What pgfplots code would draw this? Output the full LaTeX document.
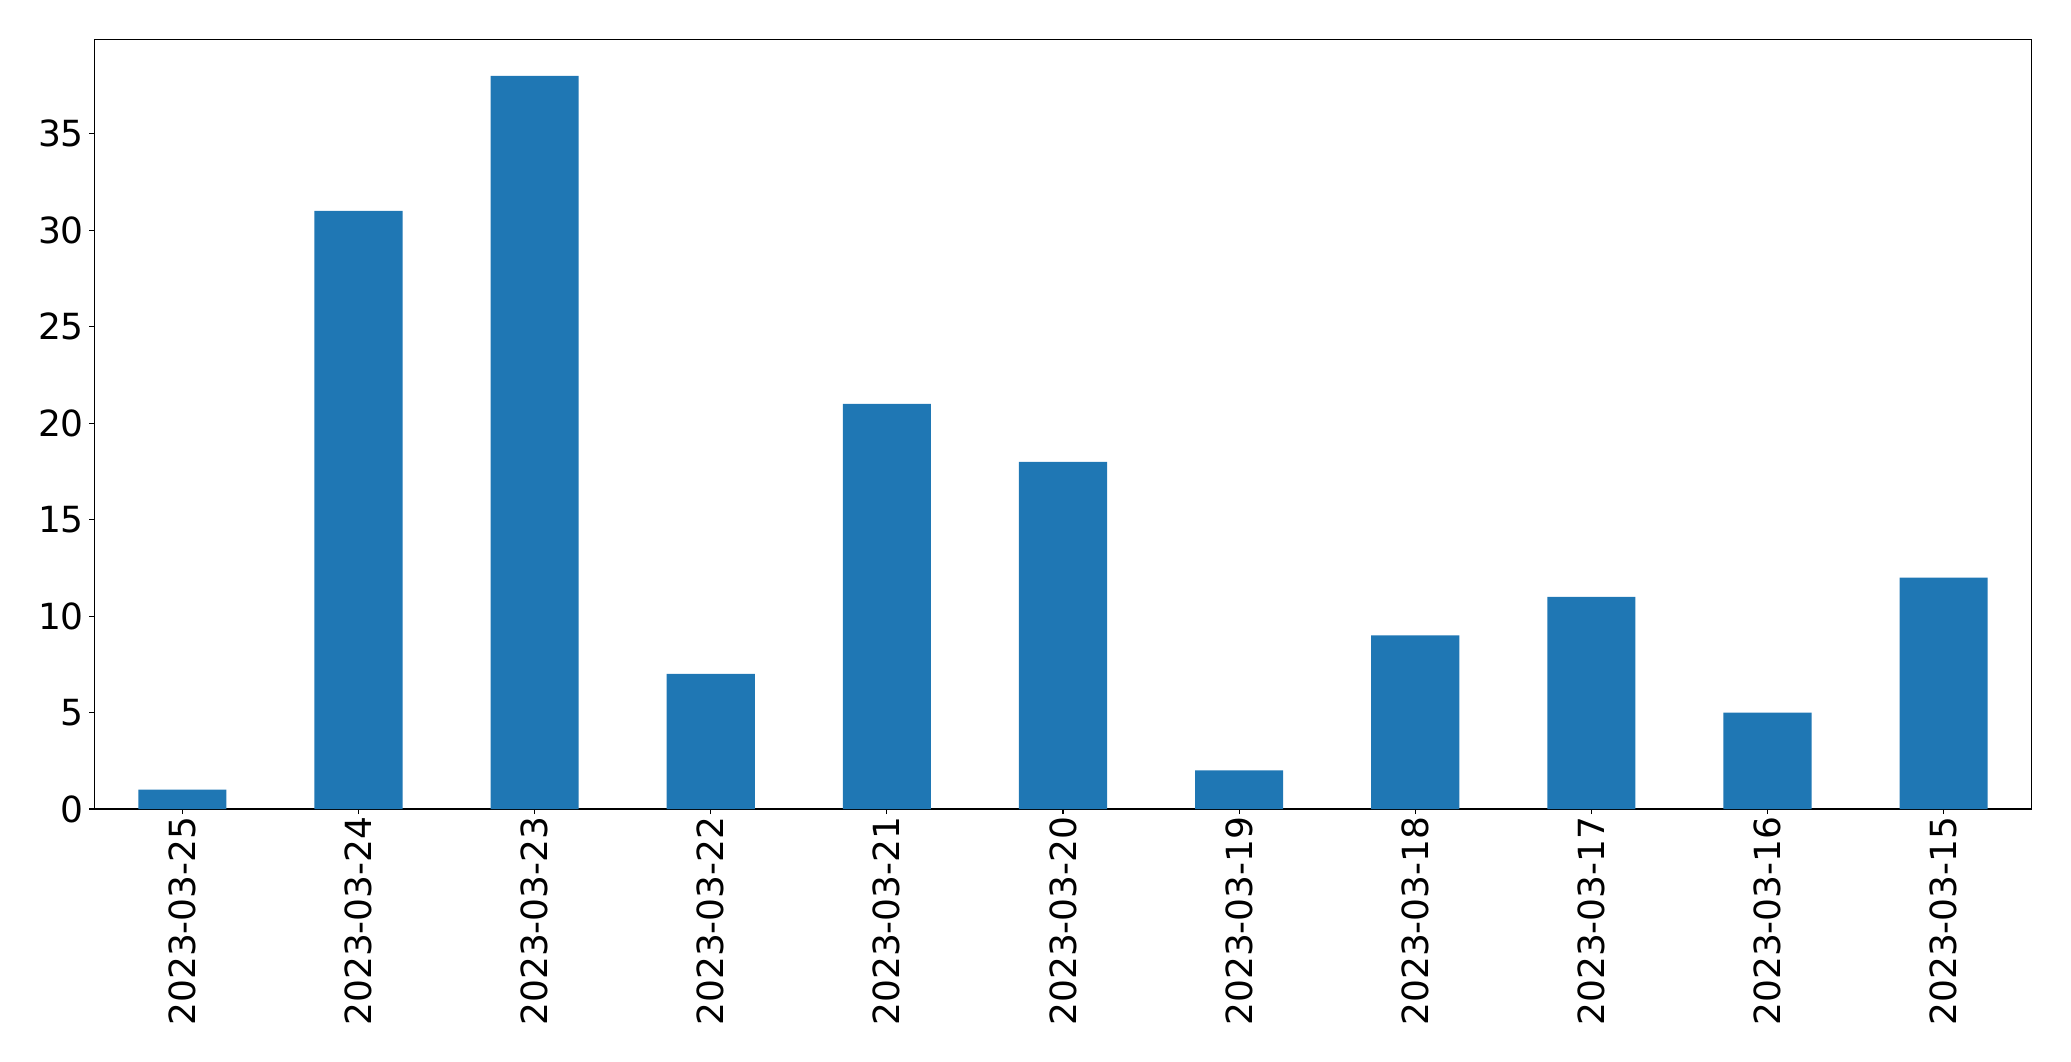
\documentclass[border=0pt]{standalone}
\usepackage{pgfplots}
\pgfplotsset{compat=1.18}
\usepackage{fontspec}
\setmainfont{DejaVu Sans}
\definecolor{mplblue}{HTML}{1F77B4}
\begin{document}
\begin{tikzpicture}
\useasboundingbox (-47.15pt,-126pt) rectangle (988.35pt,404.5pt);
\begin{axis}[
  at={(0,0)}, anchor=south west,
  scale only axis,
  width=968.7pt, height=384.85pt,
  xmin=-0.5, xmax=10.5, ymin=0, ymax=39.9,
  xtick={0,1,2,3,4,5,6,7,8,9,10},
  xticklabels={2023-03-25,2023-03-24,2023-03-23,2023-03-22,2023-03-21,2023-03-20,2023-03-19,2023-03-18,2023-03-17,2023-03-16,2023-03-15},
  ytick={0,5,10,15,20,25,30,35},
  tick pos=left,
  tick align=outside,
  major tick length=2.5pt,
  axis line style={line width=0.55pt},
  every tick/.style={line width=0.55pt, black},
  /pgf/number format/assume math mode=true,
  ticklabel style={font=\fontsize{18}{22}\selectfont, inner sep=0pt},
  xticklabel style={yshift=-1pt, rotate=90, anchor=east},
  yticklabel style={anchor=east, xshift=-2.5pt},
  ybar, bar width=0.5, bar shift=0pt,
]
\addplot[fill=mplblue, draw=none] coordinates {
  (0,1) (1,31) (2,38) (3,7) (4,21) (5,18) (6,2) (7,9) (8,11) (9,5) (10,12)
};
\end{axis}
\end{tikzpicture}
\end{document}
